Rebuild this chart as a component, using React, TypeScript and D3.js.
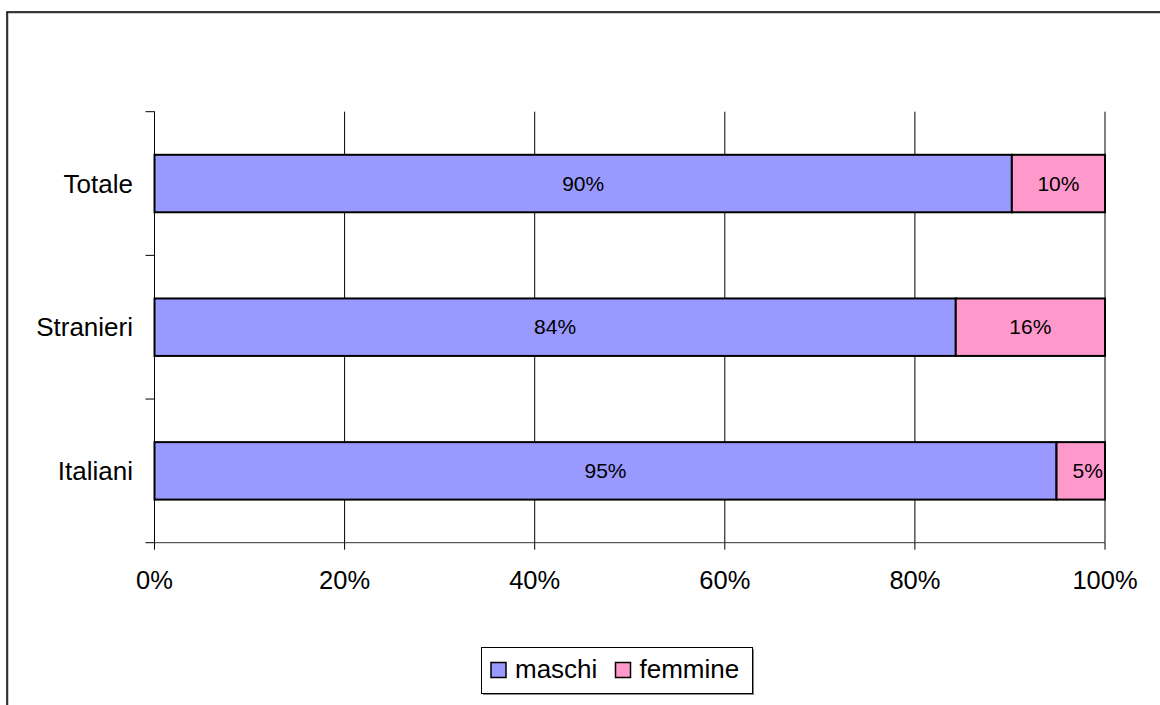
import React from 'react';
import * as d3 from 'd3';

// categories top to bottom, values in %
const categories = ['Totale', 'Stranieri', 'Italiani'];
const maschi = [90.2, 84.3, 94.9];
const femmine = [9.8, 15.7, 5.1];
const seriesNames = ['maschi', 'femmine'];
const seriesColors = ['#9999FF', '#FF99CC'];
const xTicks = [0, 20, 40, 60, 80, 100];

const W = 1160;
const H = 705;
const font = 'Arial, "Liberation Sans", sans-serif';

const App = () => {
  const left = 154.5, right = 1105, top = 111.7, bottom = 542.7;

  const x = d3.scaleLinear().domain([0, 100]).range([left, right]);
  const y = d3.scaleBand().domain(categories).range([top, bottom]).paddingInner(0.6).paddingOuter(0.3);
  const band = d3.scaleBand().domain(categories).range([top, bottom]);

  const stack = d3.stack<any>().keys(seriesNames)(
    categories.map((c, i) => ({ cat: c, maschi: maschi[i], femmine: femmine[i] }))
  );

  return (
    <svg width={W} height={H} style={{ position: 'absolute', left: 0, top: 0, background: '#fff' }}>
      {/* outer chart frame (continues past the picture) */}
      <rect x={8} y={13} width={1200} height={800} fill="none" stroke="#999" strokeWidth={1} />
      <rect x={7} y={12} width={1200} height={800} fill="none" stroke="#000" strokeWidth={1.5} />

      {/* vertical gridlines */}
      {xTicks.map(t => (
        <line key={'g' + t} x1={x(t)} x2={x(t)} y1={top} y2={bottom} stroke="#000" strokeWidth={1} />
      ))}

      {/* x axis */}
      <line x1={left} x2={right} y1={bottom} y2={bottom} stroke="#333" strokeWidth={1} />
      {xTicks.map(t => (
        <g key={'t' + t}>
          <line x1={x(t)} x2={x(t)} y1={bottom} y2={bottom + 7} stroke="#000" />
          <text x={x(t)} y={bottom + 46} textAnchor="middle" fontFamily={font} fontSize={25.5} fill="#000">
            {t + '%'}
          </text>
        </g>
      ))}

      {/* y axis */}
      <line x1={left} x2={left} y1={top} y2={bottom} stroke="#000" strokeWidth={1} />
      {[...categories.map(c => band(c)!), bottom].map((v, i) => (
        <line key={'yt' + i} x1={left - 9} x2={left} y1={v} y2={v} stroke="#000" />
      ))}
      {categories.map(c => (
        <text key={'c' + c} x={133} y={y(c)! + y.bandwidth() / 2 + 9} textAnchor="end"
          fontFamily={font} fontSize={26} fill="#000">
          {c}
        </text>
      ))}

      {/* bars */}
      <defs>
        <clipPath id="plotclip">
          <rect x={left} y={top - 10} width={right - left} height={bottom - top + 20} />
        </clipPath>
      </defs>
      {stack.map((s, si) => (
        <g key={s.key}>
          {s.map((d, i) => (
            <rect key={i} x={x(d[0])} y={y(categories[i])} width={x(d[1]) - x(d[0])} height={y.bandwidth()}
              fill={seriesColors[si]} stroke="#000" strokeWidth={2} />
          ))}
        </g>
      ))}
      <g clipPath="url(#plotclip)">
        {stack.map((s, si) =>
          s.map((d, i) => (
            <text key={s.key + i} x={(x(d[0]) + x(d[1])) / 2 + (d[1] - d[0] < 7 ? 7 : 0)}
              y={y(categories[i])! + y.bandwidth() / 2 + 7} textAnchor="middle"
              fontFamily={font} fontSize={21} fill="#000">
              {Math.round(d[1] - d[0]) + '%'}
            </text>
          ))
        )}
      </g>

      {/* legend */}
      <rect x={483} y={649} width={271} height={46} fill="#888" />
      <rect x={481.5} y={647.5} width={271} height={46} fill="#fff" stroke="#000" strokeWidth={1} />
      {seriesNames.map((n, i) => {
        const lx = [491, 615.5][i];
        return (
          <g key={'l' + n}>
            <rect x={lx} y={662.5} width={15} height={15} fill={seriesColors[i]} stroke="#000" strokeWidth={1.5} />
            <text x={lx + 24} y={678} fontFamily={font} fontSize={26} fill="#000">{n}</text>
          </g>
        );
      })}
    </svg>
  );
};

export default App;
